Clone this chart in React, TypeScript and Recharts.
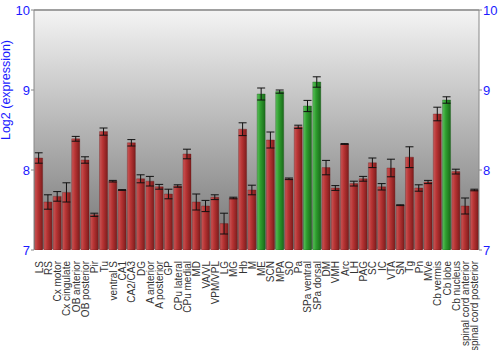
import { BarChart, Bar, Cell, XAxis, YAxis, CartesianGrid, ErrorBar, ReferenceLine } from 'recharts';

const regions = [
  'LS', 'RS', 'Cx motor', 'Cx cingulate', 'OB anterior', 'OB posterior', 'Pir', 'Tu',
  'ventral S', 'CA1', 'CA2/CA3', 'DG', 'A anterior', 'A posterior', 'GP', 'CPu lateral',
  'CPu medial', 'MD', 'VA/VL', 'VPM/VPL', 'LG', 'MG', 'Hb', 'M', 'ME', 'SCN', 'MPA', 'SO',
  'Pa', 'SPa ventral', 'SPa dorsal', 'DM', 'VMH', 'Arc', 'LH', 'PAG', 'SC', 'IC', 'VTA',
  'SN', 'Tg', 'Pn', 'MVe', 'Cb vermis', 'Cb lobe', 'Cb nucleus', 'spinal cord anterior',
  'spinal cord posterior',
];

const expression = [
  8.15, 7.6, 7.67, 7.72, 8.39, 8.125, 7.44, 8.48,
  7.86, 7.75, 8.34, 7.89, 7.86, 7.79, 7.7, 7.8,
  8.2, 7.6, 7.55, 7.66, 7.33, 7.65, 8.51, 7.75, 8.95, 8.375, 8.98, 7.89,
  8.54, 8.8, 9.1, 8.03, 7.775, 8.325, 7.83, 7.89, 8.09, 7.79, 8.025,
  7.56, 8.16, 7.775, 7.85, 8.7, 8.875, 7.98, 7.55,
  7.75,
];

const stdErr = [
  0.065, 0.09, 0.06, 0.12, 0.03, 0.04, 0.02, 0.045,
  0.01, 0.005, 0.04, 0.05, 0.06, 0.03, 0.06, 0.015,
  0.06, 0.1, 0.07, 0.03, 0.13, 0.01, 0.08, 0.06, 0.075, 0.1, 0.02, 0.01,
  0.02, 0.07, 0.065, 0.09, 0.03, 0.005, 0.03, 0.03, 0.06, 0.04, 0.11,
  0.005, 0.13, 0.04, 0.02, 0.085, 0.04, 0.03, 0.1,
  0.01,
];

const highlighted = ['ME', 'MPA', 'SPa ventral', 'SPa dorsal', 'Cb lobe'];

const yTicks = [7, 8, 9, 10];

const data = regions.map((name, i) => ({ name, value: expression[i], err: stdErr[i] }));

const blue = '#1a1aff';
const font = "'Liberation Sans', Arial, sans-serif";

function RegionTick({ x, y, payload }: any) {
  return (
    <text x={x} y={y} transform={`rotate(-90, ${x}, ${y})`} dx={-3} dy={4}
          textAnchor="end" fontSize={10} fill="#333" fontFamily={font}>
      {payload.value}
    </text>
  );
}

export default function App() {
  return (
    <div style={{ position: 'absolute', left: 0, top: 0, width: 500, height: 350, background: '#fff' }}>
      <BarChart width={500} height={350} data={data} margin={{ top: 10, right: 0, bottom: 0, left: 0 }}
                barCategoryGap="7%">
        <defs>
          <linearGradient id="bg" x1="0" y1="0" x2="0" y2="1">
            <stop offset="0%" stopColor="#f4f4f4" />
            <stop offset="100%" stopColor="#747474" />
          </linearGradient>
          <linearGradient id="red" x1="0" y1="0" x2="1" y2="0">
            <stop offset="0%" stopColor="#c85858" />
            <stop offset="40%" stopColor="#b83434" />
            <stop offset="100%" stopColor="#7e1c1c" />
          </linearGradient>
          <linearGradient id="green" x1="0" y1="0" x2="1" y2="0">
            <stop offset="0%" stopColor="#5cc05c" />
            <stop offset="40%" stopColor="#2e9e2e" />
            <stop offset="100%" stopColor="#1a6a1a" />
          </linearGradient>
        </defs>
        <CartesianGrid vertical={false} stroke="#ffffff" strokeWidth={1.5} fill="url(#bg)" fillOpacity={1} />
        <ReferenceLine yAxisId="left" y={10} stroke="#808080" strokeWidth={1.5} />
        <XAxis dataKey="name" interval={0} height={100} tick={<RegionTick />} tickLine={false} axisLine={false} />
        <YAxis yAxisId="left" domain={[7, 10]} ticks={yTicks} width={34} stroke="#888" tickSize={3} tickMargin={1}
               tick={{ fill: blue, fontSize: 13, fontFamily: font }}
               allowDataOverflow
               label={{ value: 'Log2 (expression)', angle: -90, position: 'insideLeft', dx: 1, dy: -40,
                        fill: blue, fontSize: 12.5, fontFamily: font,
                        style: { textAnchor: 'middle' } }} />
        <YAxis yAxisId="right" orientation="right" domain={[7, 10]} ticks={yTicks} width={21} stroke="#888"
               tickSize={3} tickMargin={1} allowDataOverflow
               tick={{ fill: blue, fontSize: 13, fontFamily: font }} />
        <Bar yAxisId="left" dataKey="value" isAnimationActive={false} stroke="#6a1a1a" strokeOpacity={0.35}>
          {data.map(d => (
            <Cell key={d.name} fill={highlighted.includes(d.name) ? 'url(#green)' : 'url(#red)'}
                  stroke={highlighted.includes(d.name) ? '#1a5a1a' : '#6a1a1a'} />
          ))}
          <ErrorBar dataKey="err" width={4} stroke="#111" strokeWidth={1} direction="y" />
        </Bar>
      </BarChart>
    </div>
  );
}
